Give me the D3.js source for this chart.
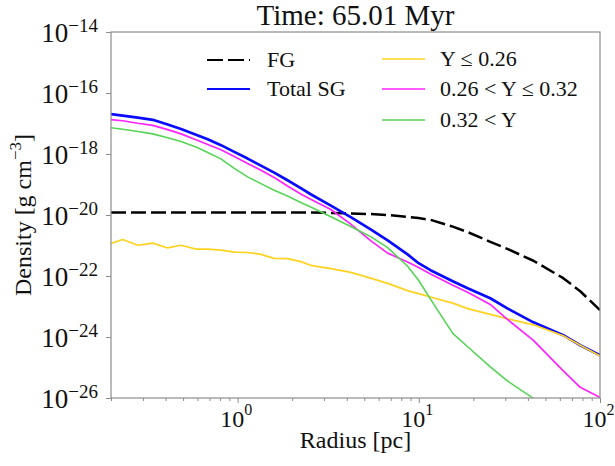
<!DOCTYPE html>
<html>
<head>
<meta charset="utf-8">
<script src="https://cdn.jsdelivr.net/npm/d3@7"></script>
<style>
  html, body { margin: 0; padding: 0; background: #ffffff; }
  svg { display: block; }
  text { font-family: "Liberation Serif", "Times New Roman", serif; fill: #111; }
</style>
</head>
<body>
<svg id="chart" width="615" height="466"></svg>
<script>
// ---------------- data ----------------
const titleText = "Time: 65.01 Myr";
const xLabel = "Radius [pc]";

const radius = [0.2, 0.232, 0.281, 0.340, 0.411, 0.487, 0.589, 0.684, 0.809, 0.958,
  1.135, 1.344, 1.591, 1.885, 2.23, 2.53, 3.27, 4.21, 5.42, 6.73,
  8.67, 9.97, 11.6, 15.4, 18.6, 24.8, 30.8, 42.9, 62.7, 77.8, 100];

const fgDensity = [1.20e-20, 1.20e-20, 1.20e-20, 1.20e-20, 1.20e-20, 1.20e-20, 1.20e-20, 1.20e-20, 1.20e-20, 1.20e-20,
  1.20e-20, 1.20e-20, 1.20e-20, 1.20e-20, 1.20e-20, 1.20e-20, 1.17e-20, 1.12e-20, 1.07e-20, 1.00e-20,
  8.71e-21, 7.94e-21, 6.92e-21, 4.17e-21, 2.75e-21, 1.32e-21, 7.76e-22, 3.16e-22, 8.51e-23, 3.16e-23, 7.59e-24];

const totalSG = [2.04e-17, 1.82e-17, 1.55e-17, 1.32e-17, 9.33e-18, 6.61e-18, 4.27e-18, 3.02e-18, 1.95e-18, 1.17e-18,
  7.08e-19, 4.17e-19, 2.45e-19, 1.38e-19, 7.59e-20, 4.79e-20, 2.04e-20, 8.51e-21, 3.39e-21, 1.48e-21,
  5.13e-22, 2.63e-22, 1.55e-22, 6.76e-23, 3.98e-23, 1.86e-23, 8.71e-24, 3.02e-24, 1.15e-24, 5.37e-25, 2.51e-25];

const yLow = [1.17e-21, 1.58e-21, 1.02e-21, 1.20e-21, 8.32e-22, 1.02e-21, 7.59e-22, 7.59e-22, 7.08e-22, 6.03e-22,
  5.89e-22, 5.13e-22, 3.80e-22, 3.72e-22, 2.95e-22, 2.24e-22, 1.74e-22, 1.32e-22, 8.51e-23, 5.75e-23,
  3.31e-23, 2.63e-23, 2.04e-23, 1.29e-23, 8.51e-24, 5.50e-24, 3.98e-24, 2.51e-24, 1.10e-24, 5.37e-25, 2.40e-25];

const yMid = [1.35e-17, 1.23e-17, 1.02e-17, 8.71e-18, 6.31e-18, 4.57e-18, 2.95e-18, 2.04e-18, 1.38e-18, 8.32e-19,
  4.90e-19, 2.95e-19, 1.70e-19, 8.91e-20, 4.90e-20, 3.31e-20, 1.51e-20, 5.01e-21, 1.45e-21, 5.62e-22,
  2.88e-22, 1.91e-22, 1.17e-22, 5.01e-23, 2.95e-23, 1.17e-23, 3.80e-24, 7.76e-25, 7.76e-26, 2.24e-26, 1.05e-26];

const yHigh = [7.24e-18, 6.46e-18, 5.50e-18, 4.57e-18, 3.39e-18, 2.57e-18, 1.70e-18, 1.12e-18, 6.92e-19, 3.39e-19,
  1.78e-19, 1.07e-19, 6.46e-20, 4.17e-20, 2.57e-20, 1.82e-20, 8.71e-21, 4.17e-21, 1.95e-21, 8.51e-22,
  2.09e-22, 7.24e-23, 1.74e-23, 1.32e-24, 4.79e-25, 1.05e-25, 3.63e-26, 9.77e-27, null, null, null];

const seriesNames = ["FG", "Total SG", "Y \u2264 0.26", "0.26 < Y \u2264 0.32", "0.32 < Y"];
const seriesColors = ["#000000", "#0a0aff", "#ffd21f", "#ff22ff", "#55d455"];

const xMajorTicks = [1, 10, 100];
const xMajorExp = ["0", "1", "2"];
const xMinorTicks = [0.2, 0.3, 0.4, 0.5, 0.6, 0.7, 0.8, 0.9, 2, 3, 4, 5, 6, 7, 8, 9, 20, 30, 40, 50, 60, 70, 80, 90];
const yTicks = [1e-26, 1e-24, 1e-22, 1e-20, 1e-18, 1e-16, 1e-14];
const yTickExp = ["\u221226", "\u221224", "\u221222", "\u221220", "\u221218", "\u221216", "\u221214"];

// ---------------- layout ----------------
const svg = d3.select("#chart");
const W = 615, H = 466;
const plot = { left: 111, right: 600, top: 32, bottom: 398 };
const spineColor = "#8c8c8c";

svg.append("rect").attr("width", W).attr("height", H).attr("fill", "#fff");

const x = d3.scaleLog().domain([0.2, 100]).range([plot.left, plot.right]);
const y = d3.scaleLog().domain([1e-26, 1e-14]).range([plot.bottom, plot.top]);

svg.append("defs").append("clipPath").attr("id", "clip")
  .append("rect")
  .attr("x", plot.left).attr("y", plot.top)
  .attr("width", plot.right - plot.left).attr("height", plot.bottom - plot.top);

// ---------------- curves ----------------
const seriesData = [fgDensity, totalSG, yLow, yMid, yHigh];
const widths = [2.5, 2.7, 1.7, 1.7, 1.6];
const drawOrder = [0, 1, 2, 3, 4];

const line = d3.line()
  .defined(d => d[1] != null)
  .x(d => x(d[0]))
  .y(d => y(d[1]));

const g = svg.append("g").attr("clip-path", "url(#clip)");
drawOrder.forEach(i => {
  const pts = radius.map((r, k) => [r, seriesData[i][k]]);
  const p = g.append("path")
    .attr("d", line(pts))
    .attr("fill", "none")
    .attr("stroke", seriesColors[i])
    .attr("stroke-width", widths[i])
    .attr("stroke-linejoin", "round");
  if (i === 0) p.attr("stroke-dasharray", "15,5");
});

// ---------------- axes ----------------
const xAxis = d3.axisBottom(x).tickValues(xMajorTicks).tickSize(5).tickFormat(() => "");
const xAxisMinor = d3.axisBottom(x).tickValues(xMinorTicks).tickSize(3).tickFormat(() => "");
const yAxis = d3.axisLeft(y).tickValues(yTicks).tickSize(5).tickFormat(() => "");

function styleAxis(sel) {
  sel.select(".domain").remove();
  sel.selectAll(".tick line").attr("stroke", spineColor).attr("stroke-width", 1);
}

svg.append("g").attr("transform", `translate(0,${plot.bottom})`).call(xAxisMinor).call(styleAxis);
const gx = svg.append("g").attr("transform", `translate(0,${plot.bottom})`).call(xAxis).call(styleAxis);
const gy = svg.append("g").attr("transform", `translate(${plot.left},0)`).call(yAxis).call(styleAxis);

// x tick labels: 10^n
gx.selectAll(".tick").each(function(d, i) {
  const t = d3.select(this).select("text");
  t.text(null).attr("x", -2).attr("y", 29).attr("dy", null)
    .attr("text-anchor", "middle").style("font-size", "24px").attr("fill", "#111");
  t.append("tspan").text("10");
  t.append("tspan").attr("dy", -12).style("font-size", "16px").text(xMajorExp[i]);
});

// y tick labels: 10^-n
gy.selectAll(".tick").each(function(d, i) {
  const t = d3.select(this).select("text");
  t.text(null).attr("x", -13).attr("y", 9).attr("dy", null)
    .attr("text-anchor", "end").style("font-size", "27px").attr("fill", "#111");
  t.append("tspan").text("10");
  t.append("tspan").attr("dy", -10).style("font-size", "19px").text(yTickExp[i]);
});

// spines (full box)
svg.append("rect")
  .attr("x", plot.left).attr("y", plot.top)
  .attr("width", plot.right - plot.left).attr("height", plot.bottom - plot.top)
  .attr("fill", "none").attr("stroke", spineColor).attr("stroke-width", 1.2);

// ---------------- labels ----------------
svg.append("text")
  .attr("x", (plot.left + plot.right) / 2).attr("y", 25)
  .attr("text-anchor", "middle").style("font-size", "29px")
  .text(titleText);

svg.append("text")
  .attr("x", (plot.left + plot.right) / 2).attr("y", 448)
  .attr("text-anchor", "middle").style("font-size", "24px")
  .text(xLabel);

const yl = svg.append("text")
  .attr("transform", `translate(31,${(plot.top + plot.bottom) / 2}) rotate(-90)`)
  .attr("text-anchor", "middle").style("font-size", "24px");
yl.append("tspan").text("Density [g cm");
yl.append("tspan").attr("dy", -10).style("font-size", "17px").text("\u22123");
yl.append("tspan").attr("dy", 10).text("]");

// ---------------- legend ----------------
const legendPos = [
  { hx: 207, tx: 267, cy: 60 },
  { hx: 207, tx: 267, cy: 89 },
  { hx: 382, tx: 440, cy: 59 },
  { hx: 382, tx: 440, cy: 89 },
  { hx: 382, tx: 440, cy: 120 }
];
const legendWidths = [2, 2, 1.5, 1.5, 1.5];
const lg = svg.append("g");
seriesNames.forEach((name, i) => {
  const p = legendPos[i];
  const l = lg.append("line")
    .attr("x1", p.hx).attr("x2", p.hx + 43)
    .attr("y1", p.cy).attr("y2", p.cy)
    .attr("stroke", seriesColors[i]).attr("stroke-width", legendWidths[i]);
  if (i === 0) l.attr("stroke-dasharray", "16,5");
  lg.append("text")
    .attr("x", p.tx).attr("y", p.cy + 7)
    .style("font-size", "22px")
    .text(name);
});
</script>
</body>
</html>
